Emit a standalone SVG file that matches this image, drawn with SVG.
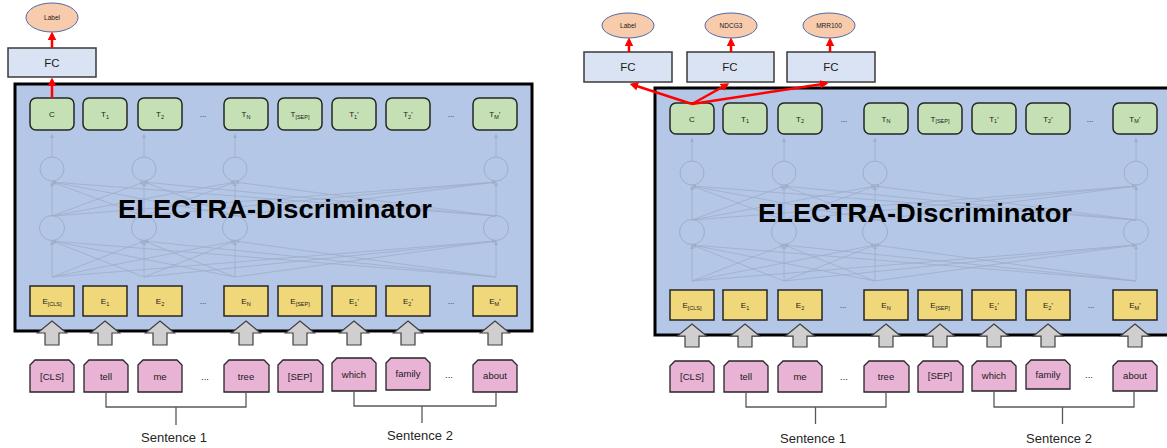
<svg xmlns="http://www.w3.org/2000/svg" width="1167" height="448" viewBox="0 0 1167 448">
<defs>
<style>
.big{fill:#b4c7e7;stroke:#000;stroke-width:3}
.t{fill:#c5e0b4;stroke:#262626;stroke-width:1.5}
.e{fill:#f0d77a;stroke:#262626;stroke-width:1.5}
.tok{fill:#e9b3d5;stroke:#262626;stroke-width:1.3}
.fc{fill:#dae3f3;stroke:#3a3a3a;stroke-width:1.5}
.ell{fill:#f8cbad;stroke:#4a6aa5;stroke-width:1}
text{font-family:"Liberation Sans",Arial,sans-serif;fill:#1a1a1a;text-anchor:middle}
.lbl{font-size:8px}
.sub{font-size:5.5px}
.tokt{font-size:9.5px}
.fct{font-size:11.5px}
.small{font-size:6.5px}
.sent{font-size:13px;fill:#262626}
.title{font-weight:bold;font-size:26px;text-anchor:start;fill:#000}
.red{stroke:#ff0000;stroke-width:2.5;fill:none;marker-end:url(#ra)}
.gar{fill:#d0cece;stroke:#404040;stroke-width:1.2}
.br{fill:none;stroke:#595959;stroke-width:1.3}
.net line{stroke:#9fadc8;stroke-width:0.8;marker-end:url(#ga)}
.net circle{fill:none;stroke:#9fadc8;stroke-width:1}
</style>
<marker id="ra" viewBox="0 0 10 10" refX="7" refY="5" markerWidth="3.4" markerHeight="3.4" orient="auto"><path d="M0,0 L10,5 L0,10 z" fill="#ff0000"/></marker>
<marker id="ga" viewBox="0 0 10 10" refX="10" refY="5" markerUnits="userSpaceOnUse" markerWidth="4" markerHeight="4" orient="auto"><path d="M0,0 L10,5 L0,10 z" fill="#9fadc8"/></marker>
</defs>

<!-- ================= LEFT PANEL ================= -->
<g id="L-label"><ellipse class="ell" cx="52" cy="17.5" rx="26" ry="14.5"/><text class="small" x="52" y="20">Label</text></g>
<g id="L-fc"><rect class="fc" x="8" y="48" width="88" height="29"/><text class="fct" x="52" y="66.5">FC</text></g>
<g id="L-encoder"><rect class="big" x="15" y="84" width="517" height="247"/></g>

<g id="L-network" class="net">
<circle cx="52" cy="169" r="12"/><circle cx="144" cy="169" r="12"/><circle cx="235" cy="169" r="12"/><circle cx="496" cy="169" r="12"/>
<circle cx="52" cy="228" r="12.5"/><circle cx="144" cy="228" r="12.5"/><circle cx="235" cy="228" r="12.5"/><circle cx="496" cy="228" r="12.5"/>
<line x1="52" y1="157" x2="52" y2="134"/><line x1="144" y1="157" x2="144" y2="134"/><line x1="235" y1="157" x2="235" y2="134"/><line x1="496" y1="157" x2="496" y2="134"/>
<line x1="52" y1="216" x2="52" y2="182"/><line x1="52" y1="216" x2="144" y2="182"/><line x1="52" y1="216" x2="235" y2="182"/><line x1="52" y1="216" x2="496" y2="182"/>
<line x1="144" y1="216" x2="52" y2="182"/><line x1="144" y1="216" x2="144" y2="182"/><line x1="144" y1="216" x2="235" y2="182"/><line x1="144" y1="216" x2="496" y2="182"/>
<line x1="235" y1="216" x2="52" y2="182"/><line x1="235" y1="216" x2="144" y2="182"/><line x1="235" y1="216" x2="235" y2="182"/><line x1="235" y1="216" x2="496" y2="182"/>
<line x1="496" y1="216" x2="52" y2="182"/><line x1="496" y1="216" x2="144" y2="182"/><line x1="496" y1="216" x2="235" y2="182"/><line x1="496" y1="216" x2="496" y2="182"/>
<line x1="52" y1="277" x2="52" y2="241"/><line x1="52" y1="277" x2="144" y2="241"/><line x1="52" y1="277" x2="235" y2="241"/><line x1="52" y1="277" x2="496" y2="241"/>
<line x1="144" y1="277" x2="52" y2="241"/><line x1="144" y1="277" x2="144" y2="241"/><line x1="144" y1="277" x2="235" y2="241"/><line x1="144" y1="277" x2="496" y2="241"/>
<line x1="235" y1="277" x2="52" y2="241"/><line x1="235" y1="277" x2="144" y2="241"/><line x1="235" y1="277" x2="235" y2="241"/><line x1="235" y1="277" x2="496" y2="241"/>
<line x1="496" y1="277" x2="52" y2="241"/><line x1="496" y1="277" x2="144" y2="241"/><line x1="496" y1="277" x2="235" y2="241"/><line x1="496" y1="277" x2="496" y2="241"/>
</g>
<text class="title" x="118" y="218" textLength="314" lengthAdjust="spacingAndGlyphs">ELECTRA-Discriminator</text>

<g id="L-T-C"><rect class="t" x="30" y="98" width="44" height="32" rx="6"/><text class="lbl" x="52" y="117">C</text></g>
<g id="L-T-1"><rect class="t" x="83" y="98" width="44" height="32" rx="6"/><text class="lbl" x="105" y="117">T<tspan class="sub" dy="1.5">1</tspan></text></g>
<g id="L-T-2"><rect class="t" x="138" y="98" width="44" height="32" rx="6"/><text class="lbl" x="160" y="117">T<tspan class="sub" dy="1.5">2</tspan></text></g>
<text class="lbl" x="203" y="117">...</text>
<g id="L-T-N"><rect class="t" x="224" y="98" width="44" height="32" rx="6"/><text class="lbl" x="246" y="117">T<tspan class="sub" dy="1.5">N</tspan></text></g>
<g id="L-T-SEP"><rect class="t" x="278" y="98" width="44" height="32" rx="6"/><text class="lbl" x="300" y="117">T<tspan class="sub" dy="1.5">[SEP]</tspan></text></g>
<g id="L-T-1p"><rect class="t" x="332" y="98" width="44" height="32" rx="6"/><text class="lbl" x="354" y="117">T<tspan class="sub" dy="1.5">1</tspan><tspan dy="-1.5">’</tspan></text></g>
<g id="L-T-2p"><rect class="t" x="386" y="98" width="44" height="32" rx="6"/><text class="lbl" x="408" y="117">T<tspan class="sub" dy="1.5">2</tspan><tspan dy="-1.5">’</tspan></text></g>
<text class="lbl" x="451" y="117">...</text>
<g id="L-T-Mp"><rect class="t" x="473" y="98" width="44" height="32" rx="6"/><text class="lbl" x="495" y="117">T<tspan class="sub" dy="1.5">M</tspan><tspan dy="-1.5">’</tspan></text></g>

<g id="L-E-CLS"><rect class="e" x="30" y="286" width="44" height="30"/><text class="lbl" x="52" y="304">E<tspan class="sub" dy="1.5">[CLS]</tspan></text></g>
<g id="L-E-1"><rect class="e" x="83" y="286" width="44" height="30"/><text class="lbl" x="105" y="304">E<tspan class="sub" dy="1.5">1</tspan></text></g>
<g id="L-E-2"><rect class="e" x="138" y="286" width="44" height="30"/><text class="lbl" x="160" y="304">E<tspan class="sub" dy="1.5">2</tspan></text></g>
<text class="lbl" x="203" y="304">...</text>
<g id="L-E-N"><rect class="e" x="224" y="286" width="44" height="30"/><text class="lbl" x="246" y="304">E<tspan class="sub" dy="1.5">N</tspan></text></g>
<g id="L-E-SEP"><rect class="e" x="278" y="286" width="44" height="30"/><text class="lbl" x="300" y="304">E<tspan class="sub" dy="1.5">[SEP]</tspan></text></g>
<g id="L-E-1p"><rect class="e" x="332" y="286" width="44" height="30"/><text class="lbl" x="354" y="304">E<tspan class="sub" dy="1.5">1</tspan><tspan dy="-1.5">’</tspan></text></g>
<g id="L-E-2p"><rect class="e" x="386" y="286" width="44" height="30"/><text class="lbl" x="408" y="304">E<tspan class="sub" dy="1.5">2</tspan><tspan dy="-1.5">’</tspan></text></g>
<text class="lbl" x="451" y="304">...</text>
<g id="L-E-Mp"><rect class="e" x="473" y="286" width="44" height="30"/><text class="lbl" x="495" y="304">E<tspan class="sub" dy="1.5">M</tspan><tspan dy="-1.5">’</tspan></text></g>

<g id="L-tok-CLS"><path class="tok" d="M30,365 L35,360 H69 L74,365 V392 H30 Z"/><text class="tokt" x="52" y="380">[CLS]</text></g>
<g id="L-tok-tell"><path class="tok" d="M84,365 L89,360 H123 L128,365 V392 H84 Z"/><text class="tokt" x="106" y="380">tell</text></g>
<g id="L-tok-me"><path class="tok" d="M138,365 L143,360 H177 L182,365 V392 H138 Z"/><text class="tokt" x="160" y="380">me</text></g>
<text class="tokt" x="205" y="380">...</text>
<g id="L-tok-tree"><path class="tok" d="M224,365 L229,360 H264 L269,365 V392 H224 Z"/><text class="tokt" x="246" y="380">tree</text></g>
<g id="L-tok-SEP"><path class="tok" d="M278,365 L283,360 H318 L323,365 V392 H278 Z"/><text class="tokt" x="300" y="380">[SEP]</text></g>
<g id="L-tok-which"><path class="tok" d="M332,363 L337,358 H371 L376,363 V391 H332 Z"/><text class="tokt" x="354" y="378">which</text></g>
<g id="L-tok-family"><path class="tok" d="M386,363 L391,358 H425 L430,363 V390 H386 Z"/><text class="tokt" x="408" y="377">family</text></g>
<text class="tokt" x="449" y="378">...</text>
<g id="L-tok-about"><path class="tok" d="M473,365 L478,360 H512 L517,365 V392 H473 Z"/><text class="tokt" x="495" y="379">about</text></g>

<text id="L-sent1" class="sent" x="174" y="442">Sentence 1</text>
<text id="L-sent2" class="sent" x="420" y="440">Sentence 2</text>

<!-- ================= RIGHT PANEL ================= -->
<g id="R-label"><ellipse class="ell" cx="628" cy="25.5" rx="26" ry="12.5"/><text class="small" x="628" y="28">Label</text></g>
<g id="R-ndcg"><ellipse class="ell" cx="731" cy="25.5" rx="26" ry="12.5"/><text class="small" x="731" y="28">NDCG3</text></g>
<g id="R-mrr"><ellipse class="ell" cx="829" cy="25.5" rx="26" ry="12.5"/><text class="small" x="829" y="28">MRR100</text></g>
<g id="R-fc1"><rect class="fc" x="584" y="52" width="88" height="30"/><text class="fct" x="628" y="71">FC</text></g>
<g id="R-fc2"><rect class="fc" x="687" y="52" width="87" height="30"/><text class="fct" x="730" y="71">FC</text></g>
<g id="R-fc3"><rect class="fc" x="787" y="52" width="88" height="30"/><text class="fct" x="831" y="71">FC</text></g>
<g id="R-encoder"><rect class="big" x="655" y="88" width="517" height="247"/></g>

<g id="R-network" class="net">
<circle cx="692" cy="173" r="12"/><circle cx="784" cy="173" r="12"/><circle cx="875" cy="173" r="12"/><circle cx="1136" cy="173" r="12"/>
<circle cx="692" cy="232" r="12.5"/><circle cx="784" cy="232" r="12.5"/><circle cx="875" cy="232" r="12.5"/><circle cx="1136" cy="232" r="12.5"/>
<line x1="692" y1="161" x2="692" y2="138"/><line x1="784" y1="161" x2="784" y2="138"/><line x1="875" y1="161" x2="875" y2="138"/><line x1="1136" y1="161" x2="1136" y2="138"/>
<line x1="692" y1="220" x2="692" y2="186"/><line x1="692" y1="220" x2="784" y2="186"/><line x1="692" y1="220" x2="875" y2="186"/><line x1="692" y1="220" x2="1136" y2="186"/>
<line x1="784" y1="220" x2="692" y2="186"/><line x1="784" y1="220" x2="784" y2="186"/><line x1="784" y1="220" x2="875" y2="186"/><line x1="784" y1="220" x2="1136" y2="186"/>
<line x1="875" y1="220" x2="692" y2="186"/><line x1="875" y1="220" x2="784" y2="186"/><line x1="875" y1="220" x2="875" y2="186"/><line x1="875" y1="220" x2="1136" y2="186"/>
<line x1="1136" y1="220" x2="692" y2="186"/><line x1="1136" y1="220" x2="784" y2="186"/><line x1="1136" y1="220" x2="875" y2="186"/><line x1="1136" y1="220" x2="1136" y2="186"/>
<line x1="692" y1="281" x2="692" y2="245"/><line x1="692" y1="281" x2="784" y2="245"/><line x1="692" y1="281" x2="875" y2="245"/><line x1="692" y1="281" x2="1136" y2="245"/>
<line x1="784" y1="281" x2="692" y2="245"/><line x1="784" y1="281" x2="784" y2="245"/><line x1="784" y1="281" x2="875" y2="245"/><line x1="784" y1="281" x2="1136" y2="245"/>
<line x1="875" y1="281" x2="692" y2="245"/><line x1="875" y1="281" x2="784" y2="245"/><line x1="875" y1="281" x2="875" y2="245"/><line x1="875" y1="281" x2="1136" y2="245"/>
<line x1="1136" y1="281" x2="692" y2="245"/><line x1="1136" y1="281" x2="784" y2="245"/><line x1="1136" y1="281" x2="875" y2="245"/><line x1="1136" y1="281" x2="1136" y2="245"/>
</g>
<text class="title" x="758" y="222" textLength="314" lengthAdjust="spacingAndGlyphs">ELECTRA-Discriminator</text>

<g id="R-T-C"><rect class="t" x="670" y="103" width="44" height="31" rx="6"/><text class="lbl" x="692" y="121.5">C</text></g>
<g id="R-T-1"><rect class="t" x="723" y="103" width="44" height="31" rx="6"/><text class="lbl" x="745" y="121.5">T<tspan class="sub" dy="1.5">1</tspan></text></g>
<g id="R-T-2"><rect class="t" x="778" y="103" width="44" height="31" rx="6"/><text class="lbl" x="800" y="121.5">T<tspan class="sub" dy="1.5">2</tspan></text></g>
<text class="lbl" x="844" y="121.5">...</text>
<g id="R-T-N"><rect class="t" x="864" y="103" width="44" height="31" rx="6"/><text class="lbl" x="886" y="121.5">T<tspan class="sub" dy="1.5">N</tspan></text></g>
<g id="R-T-SEP"><rect class="t" x="918" y="103" width="44" height="31" rx="6"/><text class="lbl" x="940" y="121.5">T<tspan class="sub" dy="1.5">[SEP]</tspan></text></g>
<g id="R-T-1p"><rect class="t" x="972" y="103" width="44" height="31" rx="6"/><text class="lbl" x="994" y="121.5">T<tspan class="sub" dy="1.5">1</tspan><tspan dy="-1.5">’</tspan></text></g>
<g id="R-T-2p"><rect class="t" x="1026" y="103" width="44" height="31" rx="6"/><text class="lbl" x="1048" y="121.5">T<tspan class="sub" dy="1.5">2</tspan><tspan dy="-1.5">’</tspan></text></g>
<text class="lbl" x="1090" y="121.5">...</text>
<g id="R-T-Mp"><rect class="t" x="1113" y="103" width="44" height="31" rx="6"/><text class="lbl" x="1135" y="121.5">T<tspan class="sub" dy="1.5">M</tspan><tspan dy="-1.5">’</tspan></text></g>

<g id="R-E-CLS"><rect class="e" x="670" y="290" width="44" height="30"/><text class="lbl" x="692" y="308">E<tspan class="sub" dy="1.5">[CLS]</tspan></text></g>
<g id="R-E-1"><rect class="e" x="723" y="290" width="44" height="30"/><text class="lbl" x="745" y="308">E<tspan class="sub" dy="1.5">1</tspan></text></g>
<g id="R-E-2"><rect class="e" x="778" y="290" width="44" height="30"/><text class="lbl" x="800" y="308">E<tspan class="sub" dy="1.5">2</tspan></text></g>
<text class="lbl" x="843" y="308">...</text>
<g id="R-E-N"><rect class="e" x="864" y="290" width="44" height="30"/><text class="lbl" x="886" y="308">E<tspan class="sub" dy="1.5">N</tspan></text></g>
<g id="R-E-SEP"><rect class="e" x="918" y="290" width="44" height="30"/><text class="lbl" x="940" y="308">E<tspan class="sub" dy="1.5">[SEP]</tspan></text></g>
<g id="R-E-1p"><rect class="e" x="972" y="290" width="44" height="30"/><text class="lbl" x="994" y="308">E<tspan class="sub" dy="1.5">1</tspan><tspan dy="-1.5">’</tspan></text></g>
<g id="R-E-2p"><rect class="e" x="1026" y="290" width="44" height="30"/><text class="lbl" x="1048" y="308">E<tspan class="sub" dy="1.5">2</tspan><tspan dy="-1.5">’</tspan></text></g>
<text class="lbl" x="1091" y="308">...</text>
<g id="R-E-Mp"><rect class="e" x="1113" y="290" width="44" height="30"/><text class="lbl" x="1135" y="308">E<tspan class="sub" dy="1.5">M</tspan><tspan dy="-1.5">’</tspan></text></g>

<g id="R-tok-CLS"><path class="tok" d="M670,366 L675,361 H709 L714,366 V392 H670 Z"/><text class="tokt" x="692" y="380">[CLS]</text></g>
<g id="R-tok-tell"><path class="tok" d="M724,366 L729,361 H763 L768,366 V392 H724 Z"/><text class="tokt" x="746" y="380">tell</text></g>
<g id="R-tok-me"><path class="tok" d="M778,366 L783,361 H817 L822,366 V392 H778 Z"/><text class="tokt" x="800" y="380">me</text></g>
<text class="tokt" x="844" y="380">...</text>
<g id="R-tok-tree"><path class="tok" d="M864,366 L869,361 H904 L909,366 V392 H864 Z"/><text class="tokt" x="886" y="380">tree</text></g>
<g id="R-tok-SEP"><path class="tok" d="M918,366 L923,361 H958 L963,366 V392 H918 Z"/><text class="tokt" x="940" y="379">[SEP]</text></g>
<g id="R-tok-which"><path class="tok" d="M972,366 L977,361 H1011 L1016,366 V391 H972 Z"/><text class="tokt" x="994" y="379">which</text></g>
<g id="R-tok-family"><path class="tok" d="M1026,365 L1031,360 H1065 L1070,365 V389 H1026 Z"/><text class="tokt" x="1048" y="378">family</text></g>
<text class="tokt" x="1089" y="378">...</text>
<g id="R-tok-about"><path class="tok" d="M1113,366 L1118,361 H1152 L1157,366 V391 H1113 Z"/><text class="tokt" x="1135" y="379">about</text></g>

<text id="R-sent1" class="sent" x="813" y="443">Sentence 1</text>
<text id="R-sent2" class="sent" x="1059" y="443">Sentence 2</text>

<!-- ================= CONNECTORS ================= -->
<g id="connectors">
<line class="red" x1="52" y1="98" x2="52" y2="80"/>
<line class="red" x1="52" y1="48" x2="52" y2="34"/>
<line class="red" x1="629" y1="52" x2="629" y2="40"/>
<line class="red" x1="731" y1="52" x2="731" y2="40"/>
<line class="red" x1="830" y1="52" x2="830" y2="40"/>
<line class="red" x1="692" y1="104" x2="632" y2="84.5"/>
<line class="red" x1="692" y1="104" x2="727" y2="84.5"/>
<line class="red" x1="692" y1="104" x2="826" y2="83.5"/>

<polygon class="gar" points="52,321 66.5,333 59,333 59,345 45,345 45,333 37.5,333"/>
<polygon class="gar" points="105,321 119.5,333 112,333 112,345 98,345 98,333 90.5,333"/>
<polygon class="gar" points="160,321 174.5,333 167,333 167,345 153,345 153,333 145.5,333"/>
<polygon class="gar" points="246,321 260.5,333 253,333 253,345 239,345 239,333 231.5,333"/>
<polygon class="gar" points="300,321 314.5,333 307,333 307,345 293,345 293,333 285.5,333"/>
<polygon class="gar" points="354,321 368.5,333 361,333 361,345 347,345 347,333 339.5,333"/>
<polygon class="gar" points="408,321 422.5,333 415,333 415,345 401,345 401,333 393.5,333"/>
<polygon class="gar" points="495,321 509.5,333 502,333 502,345 488,345 488,333 480.5,333"/>

<polygon class="gar" points="692,324 706.5,336 699,336 699,347 685,347 685,336 677.5,336"/>
<polygon class="gar" points="745,324 759.5,336 752,336 752,347 738,347 738,336 730.5,336"/>
<polygon class="gar" points="800,324 814.5,336 807,336 807,347 793,347 793,336 785.5,336"/>
<polygon class="gar" points="886,324 900.5,336 893,336 893,347 879,347 879,336 871.5,336"/>
<polygon class="gar" points="940,324 954.5,336 947,336 947,347 933,347 933,336 925.5,336"/>
<polygon class="gar" points="994,324 1008.5,336 1001,336 1001,347 987,347 987,336 979.5,336"/>
<polygon class="gar" points="1048,324 1062.5,336 1055,336 1055,347 1041,347 1041,336 1033.5,336"/>
<polygon class="gar" points="1135,324 1149.5,336 1142,336 1142,347 1128,347 1128,336 1120.5,336"/>

<path class="br" d="M106,392 V407 H246 V392 M176,407 V425"/>
<path class="br" d="M354,391 V406 H496 V392 M422,406 V423"/>
<path class="br" d="M746,392 V407 H886 V392 M815.5,407 V424"/>
<path class="br" d="M994,391 V407 H1134 V391 M1062.5,407 V424"/>
</g>
</svg>
